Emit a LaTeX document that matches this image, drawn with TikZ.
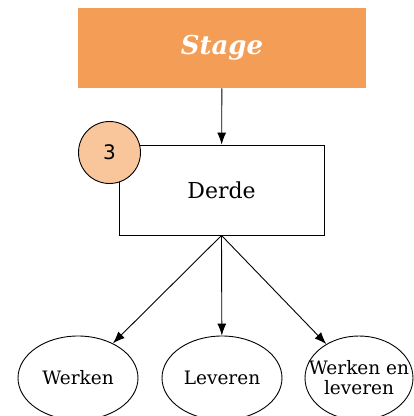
\documentclass[tikz,border=0pt]{standalone}
\usepackage{fontspec}
\setmainfont{DejaVu Serif}
\newfontfamily\numfont{DejaVu Sans}
\usepackage{tikz}
\usetikzlibrary{arrows.meta,positioning,shapes.geometric}
\definecolor{stageorange}{HTML}{F49D56}
\definecolor{stepbadge}{HTML}{F9C59A}

\begin{document}
\begin{tikzpicture}[x=1pt, y=-1pt, line width=0.9pt]
  \useasboundingbox (0,0) rectangle (414,416);
  \node (stage) at (222,48) [fill=stageorange, minimum width=288pt, minimum height=80pt, inner sep=0pt, text=white, font=\fontsize{26}{30}\selectfont\bfseries\itshape] {Stage};
  \node (derde) at (221.5,190) [draw, minimum width=205pt, minimum height=90pt, font=\fontsize{22}{26}\selectfont] {Derde};
  \node (num) at (109.5,152.5) [draw, circle, fill=stepbadge, minimum size=62pt, inner sep=0pt, font=\numfont\fontsize{20}{24}\selectfont] {3};
  \node (werken) at (78,378) [draw, ellipse, minimum width=120pt, minimum height=84pt, inner sep=0pt, font=\fontsize{18.5}{21}\selectfont] {Werken};
  \node (leveren) at (222,378) [draw, ellipse, minimum width=120pt, minimum height=84pt, inner sep=0pt, font=\fontsize{18.5}{21}\selectfont] {Leveren};
  \node (beide) at (359,378) [draw, ellipse, minimum width=108pt, minimum height=84pt, inner sep=0pt,
    label={[align=center, font=\fontsize{18.5}{20}\selectfont]center:Werken en\\leveren}] {};
  \draw[-{Latex[length=12pt,width=9pt]}] (stage) -- (derde);
  \draw[-{Latex[length=12pt,width=9pt]}] (derde.south) -- (werken);
  \draw[-{Latex[length=12pt,width=9pt]}] (derde.south) -- (leveren);
  \draw[-{Latex[length=12pt,width=9pt]}] (derde.south) -- (beide);
\end{tikzpicture}
\end{document}
